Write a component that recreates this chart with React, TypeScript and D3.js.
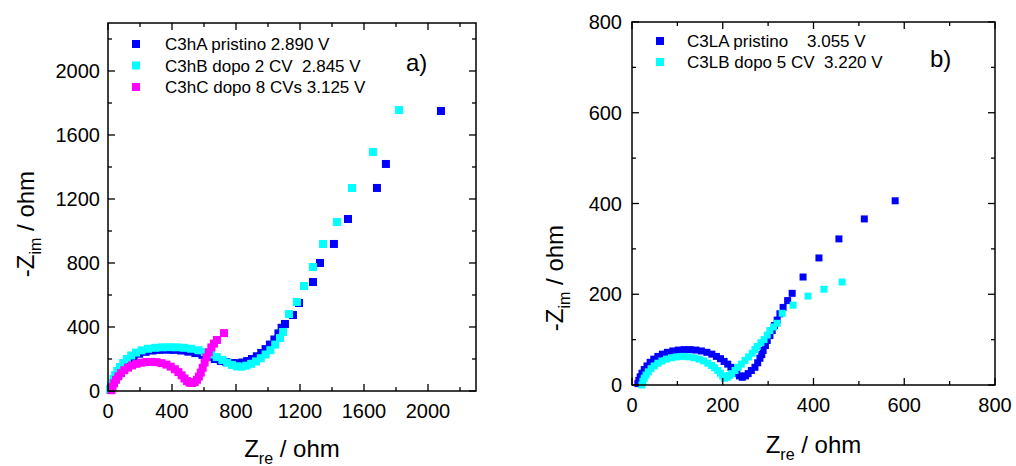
import React from 'react';
import * as d3 from 'd3';

// ---------- data ----------
const aXTicks = [0, 400, 800, 1200, 1600, 2000];
const aYTicks = [0, 400, 800, 1200, 1600, 2000];
const bXTicks = [0, 200, 400, 600, 800];
const bYTicks = [0, 200, 400, 600, 800];

const aLegend = ['C3hA pristino 2.890 V', 'C3hB dopo 2 CV  2.845 V', 'C3hC dopo 8 CVs 3.125 V'];
const bLegend = ['C3LA pristino    3.055 V', 'C3LB dopo 5 CV  3.220 V'];

const c3hA: [number, number][] = [
  [15, 8], [20, 28], [28, 50], [38, 75], [50, 100], [64, 125], [82, 150], [104, 175], [130, 198], [160, 217],
  [195, 233], [235, 245], [278, 253], [322, 257], [367, 258], [412, 257], [457, 253], [502, 246], [546, 237],
  [590, 226], [630, 213], [668, 200], [705, 188], [740, 180], [775, 175], [808, 174], [840, 178], [870, 187],
  [900, 200], [930, 217], [958, 238], [985, 262], [1012, 290], [1040, 322], [1065, 360], [1085, 395],
  [1106, 419], [1156, 475], [1194, 550], [1281, 681], [1325, 800], [1412, 919], [1500, 1075], [1681, 1269],
  [1737, 1419], [2081, 1750],
];
const c3hB: [number, number][] = [
  [12, 10], [18, 30], [25, 50], [35, 75], [45, 100], [58, 125], [75, 150], [95, 175], [118, 200], [145, 222],
  [175, 240], [210, 254], [250, 264], [295, 270], [340, 273], [385, 274], [430, 273], [475, 270], [520, 264],
  [565, 255], [605, 243], [645, 228], [680, 212], [715, 194], [745, 177], [775, 163], [805, 154], [835, 152],
  [865, 158], [895, 170], [925, 185], [955, 205], [985, 228], [1015, 255], [1045, 290], [1075, 331],
  [1094, 369], [1131, 481], [1181, 556], [1225, 656], [1281, 775], [1344, 919], [1431, 1056], [1525, 1269],
  [1656, 1494], [1819, 1756],
];
const c3hC: [number, number][] = [
  [22, 5], [28, 25], [38, 48], [50, 70], [65, 92], [82, 112], [102, 130], [125, 146], [150, 160], [178, 170],
  [208, 177], [240, 181], [272, 182], [304, 180], [335, 174], [365, 165], [392, 152], [418, 136], [440, 118],
  [460, 98], [478, 78], [494, 62], [510, 52], [526, 50], [542, 56], [556, 70], [568, 90], [580, 115], [592, 145],
  [604, 178], [616, 210], [630, 242], [646, 272], [662, 296], [681, 319], [725, 362],
];

const c3LA: [number, number][] = [
  [13, 3], [15, 10], [18, 18], [22, 26], [27, 34], [33, 42], [40, 50], [48, 57], [57, 63], [67, 68], [78, 72],
  [90, 75], [102, 77], [115, 78], [128, 78], [141, 77], [153, 75], [165, 72], [176, 68], [186, 63], [195, 58],
  [203, 52], [211, 46], [218, 39], [225, 32], [231, 25], [237, 20], [243, 17], [250, 20], [256, 25], [263, 32],
  [271, 39], [277, 49], [282, 59], [286, 67], [289, 76], [294, 87], [298, 98], [304, 109], [309, 120],
  [314, 131], [320, 143], [326, 157], [333, 171], [343, 186], [353, 202], [377, 238], [412, 280], [456, 322],
  [512, 366], [580, 406],
];
const c3LB: [number, number][] = [
  [22, 0], [24, 8], [27, 15], [31, 22], [36, 29], [42, 36], [49, 42], [57, 48], [66, 53], [76, 57], [87, 60],
  [99, 62], [112, 63], [125, 62], [137, 60], [148, 57], [158, 53], [167, 48], [175, 43], [182, 38], [189, 32],
  [195, 26], [200, 20], [204, 15], [210, 17], [215, 21], [220, 25], [227, 32], [234, 39], [241, 46], [249, 54],
  [257, 62], [265, 70], [271, 78], [276, 85], [284, 93], [291, 100], [298, 110], [304, 120], [312, 128],
  [320, 136], [331, 158], [355, 176], [388, 196], [423, 211], [463, 227],
];

const BLUE = '#0000ff';
const CYAN = '#00ffff';
const MAGENTA = '#ff00ff';
const FONT = '"Liberation Sans", Arial, sans-serif';

type Series = { data: [number, number][]; color: string };

interface PanelProps {
  left: number; top: number; right: number; bottom: number;
  xMax: number; yMax: number; major: number; minor: number;
  xTicks: number[]; yTicks: number[];
  series: Series[]; marker: number;
  legend: string[]; legendColors: string[];
  legendX: number; legendY: number; legendStep: number; legendTextX: number;
  tag: string; tagX: number; tagY: number;
  xLabelY: number; xTickY: number; yTickX: number; yTitleX: number; yTitleY: number;
}

function Panel(p: PanelProps) {
  const x = d3.scaleLinear().domain([0, p.xMax]).range([p.left, p.right]);
  const y = d3.scaleLinear().domain([0, p.yMax]).range([p.bottom, p.top]);
  const xt = d3.range(0, p.xMax + 1, p.minor);
  const yt = d3.range(0, p.yMax + 1, p.minor);
  const len = (v: number) => (v % p.major === 0 ? 7 : 4);
  const cx = (p.left + p.right) / 2;
  const h = p.marker / 2;
  return (
    <g>
      {p.series.map((s, i) => (
        <g key={i}>
          {s.data.map((d, j) => (
            <rect key={j} x={x(d[0]) - h} y={y(d[1]) - h} width={p.marker} height={p.marker} fill={s.color} />
          ))}
        </g>
      ))}
      <rect x={p.left} y={p.top} width={p.right - p.left} height={p.bottom - p.top} fill="none" stroke="#000" strokeWidth={1.5} />
      {xt.map((v) => (
        <g key={'x' + v}>
          <line x1={x(v)} x2={x(v)} y1={p.bottom} y2={p.bottom - len(v)} stroke="#000" strokeWidth={1.3} />
          <line x1={x(v)} x2={x(v)} y1={p.top} y2={p.top + len(v)} stroke="#000" strokeWidth={1.3} />
        </g>
      ))}
      {yt.map((v) => (
        <g key={'y' + v}>
          <line x1={p.left} x2={p.left + len(v)} y1={y(v)} y2={y(v)} stroke="#000" strokeWidth={1.3} />
          <line x1={p.right} x2={p.right - len(v)} y1={y(v)} y2={y(v)} stroke="#000" strokeWidth={1.3} />
        </g>
      ))}
      {p.xTicks.map((v) => (
        <text key={'xl' + v} x={x(v)} y={p.xTickY} textAnchor="middle" fontSize={20} fontFamily={FONT}>{v}</text>
      ))}
      {p.yTicks.map((v) => (
        <text key={'yl' + v} x={p.yTickX} y={y(v) + 7} textAnchor="end" fontSize={20} fontFamily={FONT}>{v}</text>
      ))}
      <text x={cx} y={p.xLabelY} textAnchor="middle" fontSize={24} fontFamily={FONT} style={{ whiteSpace: 'pre' }}>
        Z<tspan dy={7} fontSize={16}>re</tspan><tspan dy={-7}> / ohm</tspan>
      </text>
      <text transform={`translate(${p.yTitleX},${p.yTitleY}) rotate(-90)`} textAnchor="middle" fontSize={24} fontFamily={FONT} style={{ whiteSpace: 'pre' }}>
        -Z<tspan dy={7} fontSize={16}>im</tspan><tspan dy={-7}> / ohm</tspan>
      </text>
      {p.legend.map((t, i) => (
        <g key={'lg' + i}>
          <rect x={p.legendX - 4} y={p.legendY + i * p.legendStep - 4} width={8} height={8} fill={p.legendColors[i]} />
          <text x={p.legendTextX} y={p.legendY + i * p.legendStep + 6} fontSize={17} fontFamily={FONT} style={{ whiteSpace: 'pre' }}>{t}</text>
        </g>
      ))}
      <text x={p.tagX} y={p.tagY} fontSize={24} fontFamily={FONT}>{p.tag}</text>
    </g>
  );
}

export default function App() {
  return (
    <svg width={1016} height={466} style={{ position: 'absolute', left: 0, top: 0, background: '#fff' }}>
      <Panel
        left={108} top={23} right={476} bottom={391}
        xMax={2300} yMax={2300} major={400} minor={200}
        xTicks={aXTicks} yTicks={aYTicks}
        series={[{ data: c3hA, color: BLUE }, { data: c3hB, color: CYAN }, { data: c3hC, color: MAGENTA }]}
        marker={8}
        legend={aLegend} legendColors={[BLUE, CYAN, MAGENTA]}
        legendX={136} legendY={44} legendStep={21.5} legendTextX={165}
        tag="a)" tagX={406} tagY={71}
        xLabelY={457} xTickY={418} yTickX={100} yTitleX={34} yTitleY={224}
      />
      <Panel
        left={632} top={22} right={995} bottom={385}
        xMax={800} yMax={800} major={200} minor={100}
        xTicks={bXTicks} yTicks={bYTicks}
        series={[{ data: c3LA, color: BLUE }, { data: c3LB, color: CYAN }]}
        marker={7}
        legend={bLegend} legendColors={[BLUE, CYAN]}
        legendX={660} legendY={41} legendStep={21} legendTextX={687}
        tag="b)" tagX={930} tagY={67}
        xLabelY={453} xTickY={412} yTickX={622} yTitleX={563} yTitleY={278}
      />
    </svg>
  );
}
